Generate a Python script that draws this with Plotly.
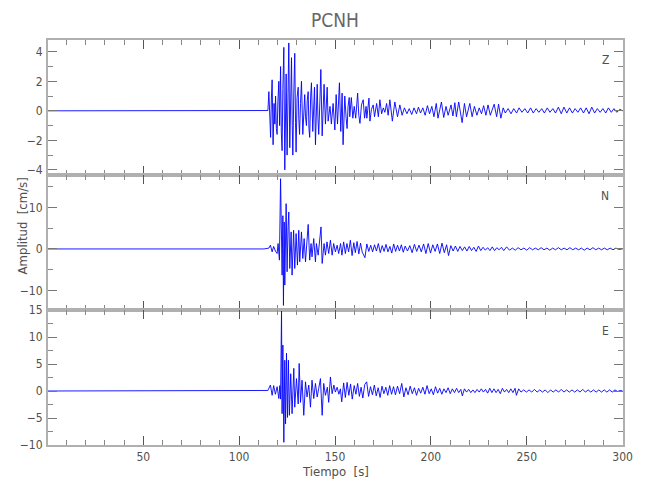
import plotly.graph_objects as go
from plotly.subplots import make_subplots

# ---------------- data ----------------
title_text = "PCNH"
components = ["Z", "N", "E"]

z_t = [0, 112, 115.0, 115.5, 115.9, 116.4, 116.8, 117.2, 117.7, 118.2, 118.6, 119.0, 119.4, 119.8,
       120.2, 120.7, 121.1, 121.6, 122.0, 122.4, 122.8, 123.3, 123.8, 124.2, 124.5, 125.0, 125.4,
       125.9, 126.4, 126.8, 127.3, 127.7, 128.0, 128.5, 129.0, 129.4, 129.7, 130.2, 130.8, 131.1,
       131.5, 132.0, 132.5, 133.2, 133.7, 134.2, 134.6, 135.1, 135.5, 136.0, 136.4, 136.8, 137.3,
       137.7, 138.4, 139.3, 139.8, 140.3, 140.7, 141.1, 141.5, 142.1, 142.6, 143.3, 143.8, 144.3,
       145.0, 145.9, 146.4, 147.4, 148.1, 149.0, 149.9, 150.6, 151.3, 152.3, 153.0, 153.7, 154.2,
       155.1, 155.8, 156.3, 156.8, 157.4, 157.7, 158.5, 159.3, 160.0, 160.8, 161.8, 162.4, 163.0,
       163.8, 164.7, 165.4, 166.2, 166.6, 167.7, 168.2, 169.0, 169.9, 170.6, 171.7, 172.6, 173.4,
       174.3, 175.2, 176.0, 176.9, 177.7, 178.6, 179.9, 181.2, 182.6, 183.8, 185.0, 186.2, 187.5,
       188.7, 190.0, 191.2, 192.5, 193.5, 194.6, 195.8, 197.0, 198.2, 199.3, 200.5, 201.6, 202.8,
       203.7, 205.5, 206.7, 207.9, 209.0, 210.5, 211.5, 212.5, 213.3, 214.5, 216.3, 217.5, 218.6,
       220.3, 221.5, 222.7, 224.0, 225.2, 226.4, 227.5, 228.7, 229.8, 231.0, 233.0, 234.3, 235.3,
       236.5, 237.7, 238.8, 240.3, 241.8, 243.2, 244.7, 246.0, 247.5, 249.0, 250.5, 252.0, 253.4,
       254.9, 256.3, 257.8, 259.2, 260.7, 262.1, 263.6, 265.0, 266.5, 268.0, 269.4, 270.9, 272.3,
       273.8, 275.2, 276.7, 278.1, 279.6, 281.0, 282.5, 283.9, 285.4, 286.8, 288.3, 289.7, 291.2,
       292.6, 294.1, 295.5, 297.0, 298.5, 300.0]
z_v = [0, 0, 0.02, 1.3, -0.6, -1.8, 0.8, 2.1, -2.3, 0.5, -0.9, 1.0, -1.2, -1.6,
       0.6, 2.0, -1.0, 3.0, -1.5, -2.7, 1.5, 4.3, -4.0, 0.5, 2.5, -3.0, 1.0,
       4.6, -2.5, 0.8, 3.6, -1.0, -3.0, 1.2, 3.9, -0.8, -2.8, 0.9, 1.6, -0.5,
       -1.6, 0.5, 2.0, -1.6, 0.6, 1.1, -0.4, -1.0, 0.7, 1.3, -1.2, -1.8, 1.0,
       1.9, -1.4, 1.6, -2.3, 0.4, 1.8, -0.5, -1.6, 0.6, 2.8, -1.7, 0.4, 1.8,
       -0.9, 1.6, -0.7, 0.3, -0.9, 0.5, -1.3, 1.1, -0.9, 1.9, -1.4, 1.2, -2.3,
       1.0, -0.5, -1.2, 0.3, 0.9, -0.4, 0.9, -0.5, 0.3, -0.5, 1.2, -0.3, -0.85,
       0.4, 0.75, -0.5, 0.3, -0.5, 0.86, -0.7, 0.1, 0.4, -0.4, 0.5, -0.4, 0.75,
       -0.2, 0.2, -0.1, 0.5, -0.3, 0.75, -0.7, 0.6, -0.4, 0.4, -0.3, 0.2, -0.2,
       0.15, -0.25, 0.2, -0.2, 0.25, -0.15, 0.2, -0.3, 0.35, -0.2, 0.3, -0.4, 0.5,
       -0.5, 0.6, -0.45, 0.3, -0.3, 0.4, -0.35, 0.55, -0.4, 0.6, -0.8, 0.5, -0.4,
       0.5, -0.4, 0.3, -0.3, 0.2, -0.2, 0.35, -0.3, 0.4, -0.3, 0.45, -0.4, 0.45,
       -0.5, 0.2, -0.15, 0.15, -0.2, 0.15, -0.15, 0.2, -0.1, 0.15, -0.15, 0.2, -0.15,
       0.15, -0.1, 0.15, -0.15, 0.2, -0.1, 0.15, -0.15, 0.25, -0.2, 0.25, -0.15, 0.2,
       -0.15, 0.15, -0.1, 0.2, -0.15, 0.2, -0.2, 0.25, -0.15, 0.15, -0.1, 0.15, -0.15,
       0.2, -0.1, 0.15, -0.1, 0.1, 0.0]

n_t = [0, 113, 115.5, 116.3, 117.2, 118.0, 118.9, 119.8, 120.3, 121.0, 121.6, 122.0, 122.4, 122.8,
       123.1, 123.5, 123.8, 124.5, 125.0, 125.5, 125.9, 126.4, 127.1, 127.6, 128.4, 129.0, 129.7,
       130.4, 131.1, 131.6, 132.5, 133.2, 133.9, 134.6, 136.0, 136.8, 137.5, 138.0, 138.9, 139.8,
       140.3, 141.2, 142.2, 142.7, 143.3, 144.3, 145.0, 145.8, 146.7, 147.6, 148.5, 149.3, 150.2,
       151.1, 151.9, 152.9, 153.6, 154.5, 155.4, 156.2, 157.1, 158.0, 158.9, 159.8, 160.6, 161.5,
       162.4, 163.3, 164.2, 165.6, 166.6, 167.6, 168.6, 169.6, 170.6, 171.6, 172.6, 173.6, 174.6,
       175.6, 176.6, 177.6, 178.6, 179.6, 180.6, 181.6, 182.6, 183.6, 184.6, 185.6, 186.6, 187.8,
       189.0, 190.2, 191.4, 192.6, 193.8, 195.0, 196.2, 197.4, 198.6, 199.8, 201.0, 202.2, 203.4,
       204.6, 205.8, 207.0, 208.2, 209.2, 210.4, 211.6, 212.8, 214.0, 215.2, 216.4, 217.6, 218.8,
       220.0, 221.2, 222.4, 223.6, 224.8, 226.0, 227.2, 228.4, 229.6, 230.8, 232.0, 233.2, 234.4,
       235.6, 236.8, 238.0, 239.5, 241.0, 242.5, 244.0, 245.5, 247.0, 248.5, 250.0, 251.5, 253.0,
       254.5, 256.0, 257.5, 259.0, 260.5, 262.0, 263.5, 265.0, 266.5, 268.0, 269.5, 271.0, 272.5,
       274.0, 275.5, 277.0, 278.5, 280.0, 281.5, 283.0, 284.5, 286.0, 287.5, 289.0, 290.5, 292.0,
       293.5, 295.0, 296.5, 298.0, 300.0]
n_v = [0, 0, 0.2, 0.9, -0.7, 0.6, -0.5, -1.1, 1.3, -2.7, 16.9, -1.0, -6.3, 8.0,
       -13.6, 6.5, -8.7, 10.9, -5.5, 5.4, 8.9, -4.7, 4.1, -6.3, 4.5, -4.7, 3.7,
       -3.9, 4.5, -3.1, 4.1, -2.3, 2.5, -3.1, 5.9, -2.7, 1.3, -1.9, 2.5, -3.1,
       1.3, -1.5, 2.9, 5.3, -3.5, 1.3, -1.5, 1.7, -1.1, 2.1, -1.5, 1.3, -0.7,
       0.9, -1.1, 1.3, -1.5, 1.7, -1.1, 1.3, -0.7, 2.1, -1.6, 1.5, -0.9, 1.8,
       -1.2, 1.4, -0.8, -2.1, 1.2, -0.6, 0.9, -0.7, 1.0, -0.5, 1.3, -0.9, 0.8,
       -0.6, 1.1, -0.7, 0.6, -1.0, 1.2, -0.6, 0.9, -0.5, 1.0, -0.8, 0.7, -0.5,
       0.8, -0.9, 1.1, -0.6, 0.9, -0.7, 1.2, -1.1, 1.3, -1.0, 1.0, -0.6, 1.2,
       -1.1, 1.4, -0.9, 1.0, -1.6, 0.8, -0.5, 0.7, -0.6, 0.6, -0.4, 0.5, -0.5,
       0.6, -0.4, 0.4, -0.6, 0.7, -0.4, 0.4, -0.3, 0.3, -0.4, 0.5, -0.4, 0.3,
       -0.2, 0.4, -0.4, 0.5, -0.3, 0.2, -0.3, 0.3, -0.2, 0.2, -0.3, 0.3, -0.2,
       0.2, -0.2, 0.3, -0.2, 0.2, -0.3, 0.2, -0.2, 0.3, -0.2, 0.2, -0.2, 0.3,
       -0.2, 0.2, -0.2, 0.2, -0.3, 0.2, -0.2, 0.3, -0.2, 0.2, -0.2, 0.2, -0.2,
       0.2, -0.2, 0.2, -0.1, 0.0]

e_t = [0, 113, 115.0, 116.3, 117.2, 118.0, 118.9, 119.8, 120.7, 121.2, 121.6, 122.1, 122.4, 122.8,
       123.3, 123.8, 124.2, 124.7, 125.2, 125.7, 126.2, 126.9, 127.6, 128.5, 129.0, 129.9, 130.8,
       131.3, 132.0, 132.8, 133.7, 134.6, 135.4, 136.3, 137.2, 138.0, 138.9, 139.8, 140.7, 141.5,
       142.4, 143.3, 144.1, 145.0, 146.0, 146.7, 147.6, 148.5, 149.4, 150.2, 151.1, 152.0, 152.8,
       153.5, 154.5, 155.4, 156.3, 157.2, 158.1, 159.0, 160.0, 160.9, 161.8, 162.7, 163.6, 164.5,
       165.5, 166.5, 167.5, 168.5, 169.5, 170.5, 171.5, 172.5, 173.5, 174.5, 175.5, 176.5, 177.5,
       178.5, 179.5, 180.5, 181.5, 182.6, 183.7, 184.8, 185.9, 187.0, 188.1, 189.2, 190.3, 191.4,
       192.5, 193.6, 194.7, 195.8, 196.9, 198.0, 199.1, 200.2, 201.3, 202.4, 203.5, 204.6, 205.7,
       206.8, 207.9, 209.0, 210.1, 211.2, 212.3, 213.4, 214.5, 215.6, 216.4, 217.5, 218.6, 219.7,
       220.8, 221.9, 223.0, 224.1, 225.2, 226.3, 227.4, 228.5, 229.6, 230.7, 231.8, 232.9, 234.0,
       235.1, 236.2, 237.3, 238.4, 239.5, 240.6, 241.7, 242.8, 243.9, 244.6, 245.8, 247.0, 248.4,
       249.8, 251.2, 252.6, 254.0, 255.4, 256.8, 258.2, 259.6, 261.0, 262.4, 263.8, 265.2, 266.6,
       268.0, 269.4, 270.8, 272.2, 273.6, 275.0, 276.4, 277.8, 279.2, 280.6, 282.0, 283.4, 284.8,
       286.2, 287.6, 289.0, 290.4, 291.8, 293.2, 294.6, 296.0, 297.4, 298.8, 300.0]
e_v = [0, 0, 0.1, 1.1, -0.8, 1.0, -0.6, 0.8, -1.4, 1.0, -1.5, 14.8, -4.2, 8.5,
       -9.5, 5.7, -6.1, 7.0, -4.9, 5.7, -4.5, 3.2, -4.2, 4.2, -3.0, 2.3, -2.4,
       5.1, -2.1, 2.0, -4.5, 1.7, -1.1, 1.1, -3.0, 2.0, -1.4, 1.4, -1.1, 0.5,
       2.3, -4.5, 1.4, -0.8, 0.7, -2.1, 2.6, -0.5, 1.1, -0.2, 0.7, -0.6, 0.4,
       -2.0, 1.5, -1.2, 1.6, -0.8, 1.3, -1.5, 1.0, -0.6, 1.4, -1.0, 0.7, -1.3,
       1.2, 1.7, -1.0, 0.8, -0.7, 1.1, -0.9, 0.6, -1.2, 0.9, -0.5, 0.7, -0.8,
       1.0, -0.6, 0.8, -0.7, 0.9, -0.5, 1.4, -1.1, 0.6, -0.7, 0.9, -0.5, 0.6,
       -0.8, 0.5, -0.4, 0.7, -0.6, 1.0, -0.5, 0.4, -0.7, 0.8, -0.4, 0.5, -0.6,
       0.4, -0.3, 0.6, -0.5, 0.4, -0.3, 0.5, -0.3, 0.3, -0.9, 0.4, -0.2, 0.3,
       -0.3, 0.2, -0.3, 0.3, -0.2, 0.4, -0.2, 0.3, -0.4, 0.5, -0.3, 0.4, -0.3,
       0.3, -0.5, 0.5, -0.2, 0.3, -0.3, 0.4, -0.3, 0.5, -0.8, 0.4, -0.2, 0.2,
       -0.2, 0.2, -0.2, 0.3, -0.2, 0.2, -0.2, 0.2, -0.3, 0.2, -0.2, 0.2, -0.2,
       0.3, -0.2, 0.2, -0.2, 0.2, -0.2, 0.2, -0.2, 0.3, -0.2, 0.2, -0.2, 0.2,
       -0.2, 0.2, -0.2, 0.2, -0.2, 0.2, -0.2, 0.2, -0.1, 0.1, 0.0]

x_ticks = [50, 100, 150, 200, 250, 300]
y_ranges = [[-4.35, 4.8], [-14.7, 17.8], [-10, 15]]
y_dticks = [2, 10, 5]
y_minor = [1, 5, 2.5]

# ---------------- figure ----------------
FONT = "DejaVu Sans Condensed, Liberation Sans Narrow, sans-serif"
AXC = "#b0b0b0"
TXT = "#505050"

fig = make_subplots(rows=3, cols=1, shared_xaxes=True, vertical_spacing=0)
series = [(z_t, z_v), (n_t, n_v), (e_t, e_v)]
for i, (tt, vv) in enumerate(series):
    fig.add_trace(go.Scatter(x=tt, y=vv, mode="lines",
                             line=dict(color="#0000ff", width=0.9),
                             showlegend=False, hoverinfo="skip"),
                  row=i + 1, col=1)

for i in range(3):
    fig.update_xaxes(range=[0.3, 300.2], tickvals=x_ticks, ticks="inside", ticklen=9,
                     tickwidth=1, tickcolor="#555", showline=True, linecolor=AXC,
                     linewidth=2, mirror="allticks", showgrid=False, zeroline=False,
                     automargin=False,
                     minor=dict(ticks="inside", ticklen=5, tickcolor="#888",
                                tick0=0, dtick=10, showgrid=False),
                     showticklabels=(i == 2), ticklabelstandoff=0,
                     tickfont=dict(family=FONT, size=12, color=TXT),
                     row=i + 1, col=1)
    fig.update_yaxes(range=y_ranges[i], dtick=y_dticks[i], tick0=0, ticks="inside",
                     ticklen=9, tickwidth=1, tickcolor="#777", showline=True,
                     linecolor=AXC, linewidth=2, mirror="allticks", showgrid=False,
                     zeroline=False, automargin=False, ticklabelstandoff=1,
                     minor=dict(ticks="inside", ticklen=5, tickcolor="#888",
                                tick0=0, dtick=y_minor[i], showgrid=False),
                     tickfont=dict(family=FONT, size=12, color=TXT),
                     row=i + 1, col=1)

label_y = [0.951, 0.615, 0.281]
annotations = []
for comp, ly in zip(components, label_y):
    annotations.append(dict(text=comp, x=0.969, y=ly, xref="paper", yref="paper",
                            showarrow=False, xanchor="center", yanchor="middle",
                            font=dict(family=FONT, size=12, color=TXT)))
annotations.append(dict(text="Amplitud  [cm/s]", x=-0.045, y=0.54, xref="paper",
                        yref="paper", showarrow=False, textangle=-90,
                        xanchor="center", yanchor="middle",
                        font=dict(family=FONT, size=13, color=TXT)))
annotations.append(dict(text="Tiempo  [s]", x=0.5, y=-0.066, xref="paper",
                        yref="paper", showarrow=False, xanchor="center",
                        yanchor="middle",
                        font=dict(family=FONT, size=13, color=TXT)))

# the page adds an 8 px body margin, so margins are offset to land the plot
# area at the reference position (x 48..623, y 40..445)
fig.update_layout(
    width=650, height=500,
    margin=dict(l=40, r=35, t=32, b=63, autoexpand=False),
    paper_bgcolor="white", plot_bgcolor="white",
    title=dict(text=title_text, x=0.503, xanchor="center", y=0.976, yanchor="middle",
               automargin=False,
               font=dict(family=FONT, size=19, color="#666")),
    annotations=annotations,
)

fig.write_html("out.html")
